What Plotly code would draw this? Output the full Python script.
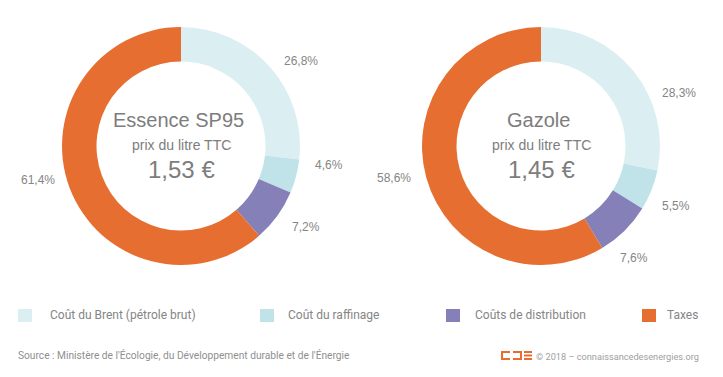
import math
import plotly.graph_objects as go

categories = ["Coût du Brent (pétrole brut)", "Coût du raffinage", "Coûts de distribution", "Taxes"]
essence_values = [26.8, 4.6, 7.2, 61.4]
gazole_values = [28.3, 5.5, 7.6, 58.6]
colors = ["#dbeff2", "#bfe3e9", "#8680b9", "#e66e30"]
products = ["Essence SP95", "Gazole"]
prices = ["1,53 €", "1,45 €"]
subtitle = "prix du litre TTC"
source_text = "Source : Ministère de l'Écologie, du Développement durable et de l'Énergie"
credit_text = "© 2018 – connaissancedesenergies.org"

SANS = "Liberation Sans, Arial, sans-serif"
ROBOTO = "Roboto, sans-serif"
GRAY = "#858585"

# page has an 8px body margin: figure sized to fit exactly in the window
OFF = 8
W, H = 723 - OFF, 377 - OFF


def fx(x):
    return (x - OFF) / W


def fy(y):
    return 1 - (y - OFF) / H


def fmt(v):
    return f"{v:.1f}%".replace(".", ",")


fig = go.Figure()

centers = [(181, 146), (541, 146)]
R = 119
LABEL_R = 136
# small per-label nudges (pixels) so labels sit where the original placed them
label_nudges = [
    [(0, 6), (0, -16), (-1, 1), (3, -14)],
    [(13, 33), (-7, 10), (-19, 15), (3, -4)],
]
shapes = []
annotations = []

for i, vals in enumerate([essence_values, gazole_values]):
    cx, cy = centers[i]
    fig.add_trace(go.Pie(
        labels=categories,
        values=vals,
        textinfo="none",
        marker=dict(colors=colors, line=dict(width=0)),
        hole=0.71,
        sort=False,
        direction="clockwise",
        rotation=0,
        hoverinfo="label+percent",
        domain=dict(x=[fx(cx - R), fx(cx + R)], y=[fy(cy + R), fy(cy - R)]),
        showlegend=False,
    ))
    # percentage labels placed outside each slice, at the slice's mid-angle
    total = sum(vals)
    acc = 0.0
    for j, v in enumerate(vals):
        mid = (acc + v / 2) / total * 2 * math.pi
        acc += v
        ndx, ndy = label_nudges[i][j]
        lx = cx + LABEL_R * math.sin(mid) + ndx
        ly = cy - LABEL_R * math.cos(mid) + ndy
        annotations.append(dict(
            x=fx(lx), y=fy(ly), xref="paper", yref="paper",
            xanchor="left" if math.sin(mid) >= 0 else "right", yanchor="middle",
            text=fmt(v), showarrow=False,
            font=dict(family=SANS, size=12, color=GRAY)))
    annotations.append(dict(x=fx(cx - 3), y=fy(120), xref="paper", yref="paper",
                            xanchor="center", yanchor="middle", text=products[i], showarrow=False,
                            font=dict(family=SANS, size=20, color="#7d7d7d")))
    annotations.append(dict(x=fx(cx), y=fy(145), xref="paper", yref="paper",
                            xanchor="center", yanchor="middle", text=subtitle, showarrow=False,
                            font=dict(family=SANS, size=14, color="#7d7d7d")))
    annotations.append(dict(x=fx(cx), y=fy(169), xref="paper", yref="paper",
                            xanchor="center", yanchor="middle", text=prices[i], showarrow=False,
                            font=dict(family=SANS, size=24, color="#7d7d7d")))

# manual legend
legend_box_x = [18, 260, 446, 642]
legend_text_x = [50, 288, 475, 667]
for xs, xt, name, col in zip(legend_box_x, legend_text_x, categories, colors):
    shapes.append(dict(type="rect", xref="paper", yref="paper",
                       x0=fx(xs), x1=fx(xs + 14), y0=fy(322), y1=fy(309),
                       fillcolor=col, line=dict(width=0)))
    annotations.append(dict(x=fx(xt - 2), y=fy(315), xref="paper", yref="paper",
                            xanchor="left", yanchor="middle", text=name, showarrow=False,
                            font=dict(family=ROBOTO, size=12, color=GRAY)))

annotations.append(dict(x=fx(16), y=fy(355), xref="paper", yref="paper",
                        xanchor="left", yanchor="middle", text=source_text,
                        showarrow=False, font=dict(family=ROBOTO, size=10.2, color="#8f8f8f")))
annotations.append(dict(x=fx(701), y=fy(356), xref="paper", yref="paper",
                        xanchor="right", yanchor="middle", text=credit_text,
                        showarrow=False, font=dict(family=ROBOTO, size=9.2, color="#a0a0a0")))

# logo
orange = "#e86e30"
lx, ly = 502, 352
brackets = [
    [(lx + 8, ly), (lx, ly), (lx, ly + 7), (lx + 8, ly + 7)],
    [(lx + 11, ly), (lx + 19, ly), (lx + 19, ly + 7), (lx + 11, ly + 7)],
]
for p in brackets:
    path = "M " + " L ".join(f"{fx(a)},{fy(b)}" for a, b in p)
    shapes.append(dict(type="path", path=path, xref="paper", yref="paper",
                       line=dict(color=orange, width=2)))
for dy in (0, 3.5, 7):
    shapes.append(dict(type="line", x0=fx(lx + 22), y0=fy(ly + dy), x1=fx(lx + 30), y1=fy(ly + dy),
                       xref="paper", yref="paper", line=dict(color=orange, width=2)))

fig.update_layout(
    width=W, height=H,
    margin=dict(l=0, r=0, t=0, b=0),
    paper_bgcolor="white",
    plot_bgcolor="white",
    font=dict(family=ROBOTO, color=GRAY),
    shapes=shapes,
    annotations=annotations,
    showlegend=False,
)

fig.write_html("out.html")
